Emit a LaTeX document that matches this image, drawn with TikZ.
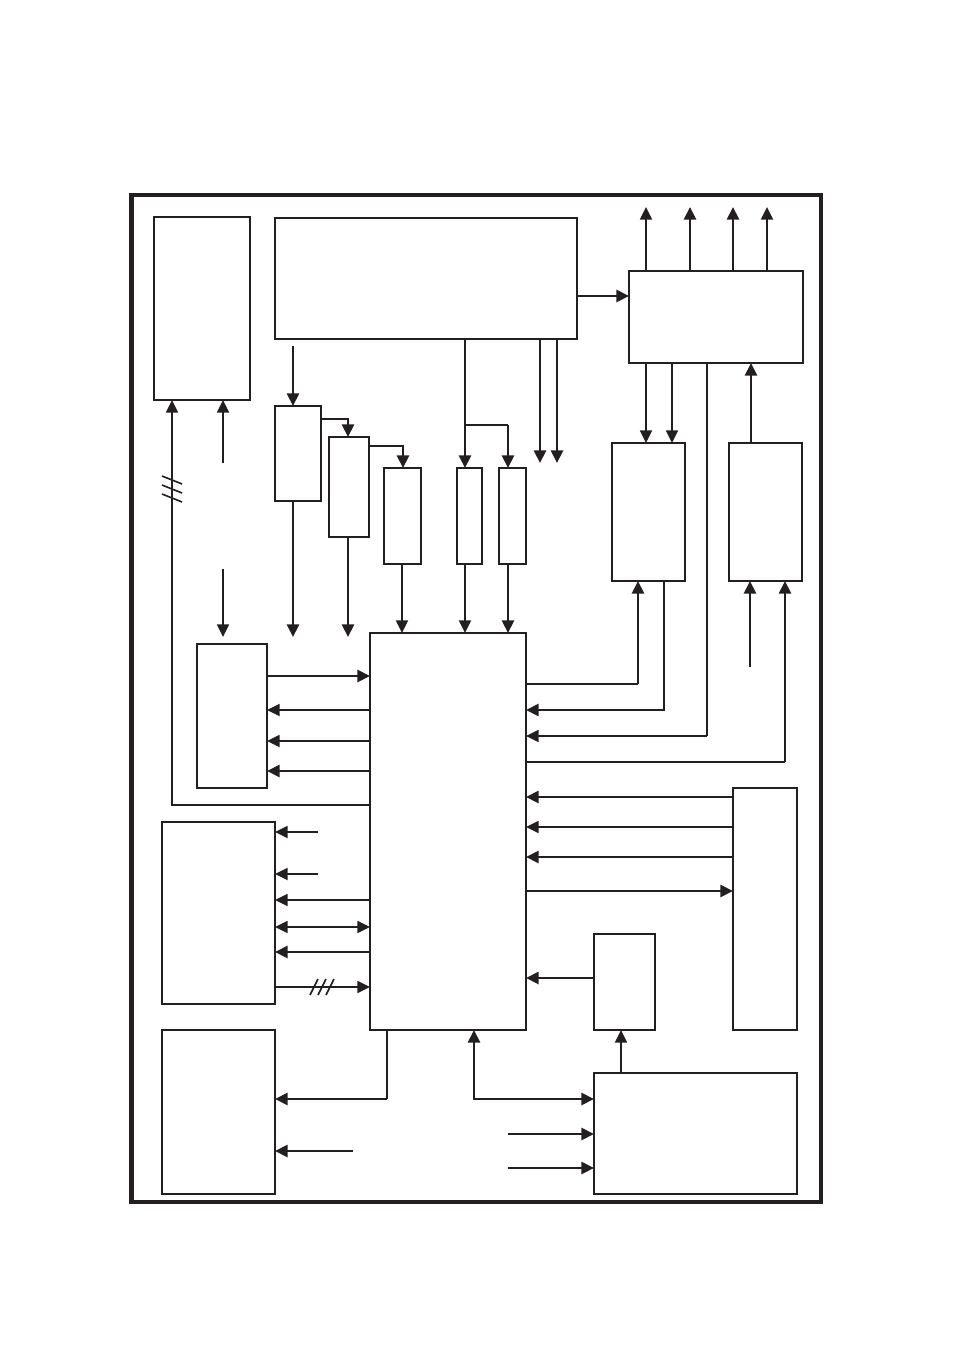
\documentclass[tikz,border=0pt]{standalone}
\usetikzlibrary{arrows.meta}
\definecolor{ink}{HTML}{231F20}
\tikzset{
  frame/.style={draw=ink,line width=3.2pt},
  box/.style={draw=ink,line width=1.9pt,inner sep=0pt,outer sep=0pt},
  thinbox/.style={box,line width=1.3pt},
  thk/.style={draw=ink,line width=2.2pt},
  thn/.style={draw=ink,line width=1.3pt},
  tip/.style={-{Triangle[length=9.5pt,width=9pt]}},
  bitip/.style={{Triangle[length=9.5pt,width=9pt]}-{Triangle[length=9.5pt,width=9pt]}},
  tick/.style={draw=ink,line width=1.2pt}
}
\newcommand\bx[6][]{%
  \node[box,#1,minimum width={(#5-#3)*0.75pt},minimum height={(#6-#4)*0.75pt}]
    (#2) at ({(#3+#5)/2},{(#4+#6)/2}) {};}
\begin{document}
\begin{tikzpicture}[x=0.75pt,y=-0.75pt]
\useasboundingbox (0,0) rectangle (954,1350);
\fill[white] (0,0) rectangle (954,1350);
\draw[frame] (131.5,195) rectangle (821,1202);
% boxes
\bx[thinbox]{A}{154}{217}{250}{400}
\bx{B}{275}{218}{577}{339}
\bx{C}{629}{271}{803}{363}
\bx{D}{275}{406}{321}{501}
\bx[thinbox]{E}{329}{437}{369}{537}
\bx{F}{384}{468}{421}{564}
\bx{G}{457}{468}{482}{564}
\bx{H}{499}{468}{526}{564}
\bx{P}{612}{443}{685}{581}
\bx{Q}{729}{443}{802}{581}
\bx{M}{370}{633}{526}{1030}
\bx{I}{197}{644}{267}{788}
\bx{J}{162}{822}{275}{1004}
\bx{K}{162}{1030}{275}{1194}
\bx{N}{594}{934}{655}{1030}
\bx{O}{733}{788}{797}{1030}
\bx{L}{594}{1073}{797}{1194}
% free ends
\coordinate (c1) at (646,207);
\coordinate (c2) at (690,207);
\coordinate (c3) at (733,207);
\coordinate (c4) at (767,207);
\coordinate (b1) at (540,463);
\coordinate (b2) at (557,463);
\coordinate (d0) at (293,346);
\coordinate (d1) at (293,637);
\coordinate (e1) at (348,637);
\coordinate (a1) at (223,463);
\coordinate (a2) at (223,569);
\coordinate (i1) at (223,637);
\coordinate (q1) at (750,667);
\coordinate (j1) at (318,832);
\coordinate (j2) at (318,874);
\coordinate (k1) at (353,1151);
\coordinate (l1) at (508,1134);
\coordinate (l2) at (508,1168);
\coordinate (gb) at (465,425);
% C outputs
\draw[thn,tip] (C.north -| 646,0) -- (c1);
\draw[thk,tip] (C.north -| 690,0) -- (c2);
\draw[thk,tip] (C.north -| 733,0) -- (c3);
\draw[thn,tip] (C.north -| 767,0) -- (c4);
% B connections
\draw[thk,tip] (B.east |- 0,296) -- (C.west |- 0,296);
\draw[thk,tip] (B.south -| 465,0) -- (G.north -| 465,0);
\draw[thn] (gb) -- (508,425);
\draw[thk,tip] (508,425) -- (H.north -| 508,0);
\draw[thk,tip] (B.south -| 540,0) -- (b1);
\draw[thk,tip] (B.south -| 557,0) -- (b2);
\draw[thk,tip] (d0) -- (D.north -| 293,0);
\draw[thk,tip] (D.east |- 0,419) -| (E.north -| 348,0);
\draw[thk,tip] (E.east |- 0,446) -| (F.north -| 403,0);
\draw[thk,tip] (D.south -| 293,0) -- (d1);
\draw[thk,tip] (E.south -| 348,0) -- (e1);
\draw[thn,tip] (F.south -| 402,0) -- (M.north -| 402,0);
\draw[thn,tip] (G.south -| 465,0) -- (M.north -| 465,0);
\draw[thk,tip] (H.south -| 508,0) -- (M.north -| 508,0);
% C / P / Q
\draw[thn,tip] (C.south -| 646,0) -- (P.north -| 646,0);
\draw[thn,tip] (C.south -| 672,0) -- (P.north -| 672,0);
\draw[thk,tip] (Q.north -| 751,0) -- (C.south -| 751,0);
\draw[thk] (C.south -| 707,0) -- (707,736);
\draw[thn,tip] (707,736) -- (M.east |- 0,736);
\draw[thn] (M.east |- 0,684) -- (638,684);
\draw[thk,tip] (638,684) -- (P.south -| 638,0);
\draw[thk,tip] (P.south -| 664,0) |- (M.east |- 0,710);
\draw[thn] (M.east |- 0,762) -- (785,762);
\draw[thk,tip] (785,762) -- (Q.south -| 785,0);
\draw[thk,tip] (q1) -- (Q.south -| 750,0);
% A
\draw[thn,tip] (a2) -- (i1);
\draw[thn,tip] (a1) -- (A.south -| 223,0);
\draw[thn,tip] (M.west |- 0,805) -| (A.south -| 172,0);
\foreach \t in {480,489,498} \draw[tick] (162,\t-4) -- (182,\t+4);
% I
\draw[thk,tip] (I.east |- 0,676) -- (M.west |- 0,676);
\draw[thn,tip] (M.west |- 0,710) -- (I.east |- 0,710);
\draw[thn,tip] (M.west |- 0,741) -- (I.east |- 0,741);
\draw[thk,tip] (M.west |- 0,771) -- (I.east |- 0,771);
% O
\draw[thk,tip] (O.west |- 0,797) -- (M.east |- 0,797);
\draw[thn,tip] (O.west |- 0,827) -- (M.east |- 0,827);
\draw[thk,tip] (O.west |- 0,857) -- (M.east |- 0,857);
\draw[thk,tip] (M.east |- 0,891) -- (O.west |- 0,891);
% J
\draw[thn,tip] (j1) -- (J.east |- j1);
\draw[thn,tip] (j2) -- (J.east |- j2);
\draw[thn,tip] (M.west |- 0,900) -- (J.east |- 0,900);
\draw[thn,bitip] (J.east |- 0,927) -- (M.west |- 0,927);
\draw[thk,tip] (M.west |- 0,952) -- (J.east |- 0,952);
\draw[thn,tip] (J.east |- 0,987) -- (M.west |- 0,987);
\foreach \t in {314,322,330} \draw[tick] (\t-4,995) -- (\t+4,979);
% bottom
\draw[thn] (M.south -| 387,0) -- (387,1099);
\draw[thk,tip] (387,1099) -- (K.east |- 0,1099);
\draw[thk,tip] (k1) -- (K.east |- k1);
\draw[thk,bitip] (M.south -| 474,0) |- (L.west |- 0,1099);
\draw[thk,tip] (l1) -- (L.west |- l1);
\draw[thk,tip] (l2) -- (L.west |- l2);
\draw[thk,tip] (N.west |- 0,978) -- (M.east |- 0,978);
\draw[thn,tip] (L.north -| 621,0) -- (N.south -| 621,0);
\end{tikzpicture}
\end{document}
